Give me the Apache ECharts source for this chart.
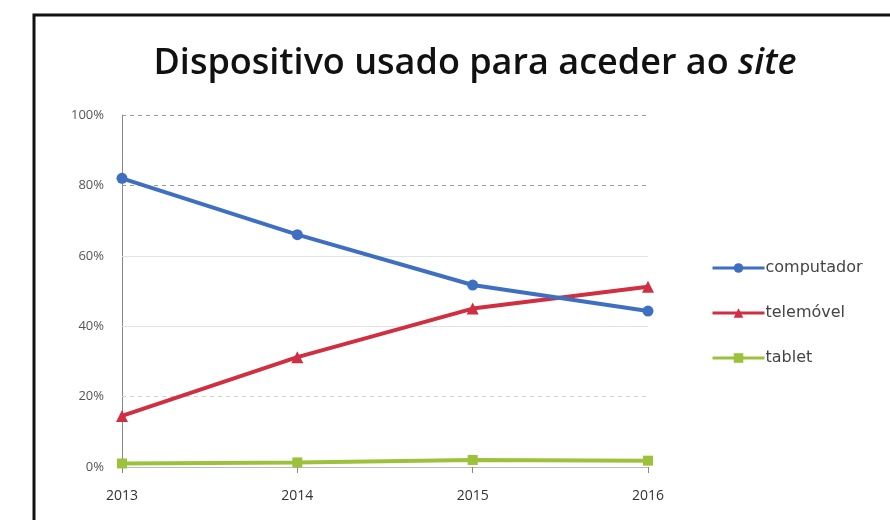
<!DOCTYPE html>
<html>
<head>
<meta charset="utf-8">
<script src="https://cdn.jsdelivr.net/npm/echarts@6/dist/echarts.min.js"></script>
<style>
html,body{margin:0;padding:0;background:#fff;}
#chart{width:890px;height:520px;}
</style>
</head>
<body>
<div id="chart"></div>
<script>
var years = ['2013', '2014', '2015', '2016'];
var computador = [82, 66, 51.7, 44.3];
var telemovel = [14.5, 31.2, 45, 51.2];
var tablet = [1, 1.3, 2, 1.8];
var yTicks = [0, 20, 40, 60, 80, 100];
var seriesNames = ['computador', 'telemóvel', 'tablet'];

var chart = echarts.init(document.getElementById('chart'));

var gridStyles = {
  100: {color: '#9a9a9a', type: [4, 4], width: 1},
  80: {color: '#9a9a9a', type: [4, 4], width: 1},
  60: {color: '#e2e2e2', type: 'solid', width: 1},
  40: {color: '#e2e2e2', type: 'solid', width: 1},
  20: {color: '#d0d0d0', type: [4, 4], width: 1}
};
var markData = yTicks.filter(function (v) { return v > 0; }).map(function (v) {
  return {yAxis: v, lineStyle: gridStyles[v]};
});

chart.setOption({
  animation: false,
  backgroundColor: '#fff',
  title: {
    text: 'Dispositivo usado para aceder ao {i|site}',
    left: 470,
    textAlign: 'center',
    top: 41,
    textStyle: {
      fontFamily: 'Open Sans',
      fontWeight: 600,
      fontSize: 36,
      color: '#111',
      rich: {
        i: {fontFamily: 'Open Sans', fontWeight: 600, fontStyle: 'italic', fontSize: 36, color: '#111'}
      }
    }
  },
  graphic: [{
    type: 'rect',
    shape: {x: 34, y: 15, width: 1000, height: 800},
    style: {fill: 'none', stroke: '#111', lineWidth: 3},
    silent: true
  }],
  legend: {
    orient: 'vertical',
    left: 706,
    top: 255,
    itemWidth: 52,
    itemHeight: 12,
    itemGap: 29,
    lineStyle: {width: 3},
    textStyle: {fontFamily: 'DejaVu Sans', fontSize: 16, color: '#444', padding: [0, 0, 0, -4]},
    data: seriesNames
  },
  grid: {left: 122, right: 242, top: 115, bottom: 53, containLabel: false},
  xAxis: {
    type: 'category',
    data: years,
    boundaryGap: false,
    axisLine: {show: true, lineStyle: {color: '#bbb', width: 1}},
    axisTick: {show: true, alignWithLabel: true, length: 6, lineStyle: {color: '#888'}},
    axisLabel: {fontFamily: 'Open Sans', fontSize: 14, color: '#333', margin: 22}
  },
  yAxis: {
    type: 'value',
    min: 0,
    max: 100,
    interval: 20,
    axisLine: {show: true, lineStyle: {color: '#888', width: 1}},
    axisTick: {show: false},
    splitLine: {show: false},
    axisLabel: {fontFamily: 'Open Sans', fontSize: 13, color: '#555', margin: 18, formatter: '{value}%'}
  },
  series: [
    {
      name: seriesNames[0],
      type: 'line',
      data: computador,
      color: '#3f6fc0',
      symbol: 'circle',
      symbolSize: 11,
      lineStyle: {width: 4, color: '#3f6fc0'},
      z: 4,
      markLine: {
        silent: true,
        symbol: 'none',
        label: {show: false},
        z: 1,
        data: markData
      }
    },
    {
      name: seriesNames[1],
      type: 'line',
      data: telemovel,
      color: '#cf2f40',
      symbol: 'triangle',
      symbolSize: 12,
      lineStyle: {width: 4, color: '#cf2f40'},
      z: 3
    },
    {
      name: seriesNames[2],
      type: 'line',
      data: tablet,
      color: '#9cc23c',
      symbol: 'rect',
      symbolSize: 10,
      lineStyle: {width: 4, color: '#9cc23c'},
      z: 2
    }
  ]
});
</script>
</body>
</html>
